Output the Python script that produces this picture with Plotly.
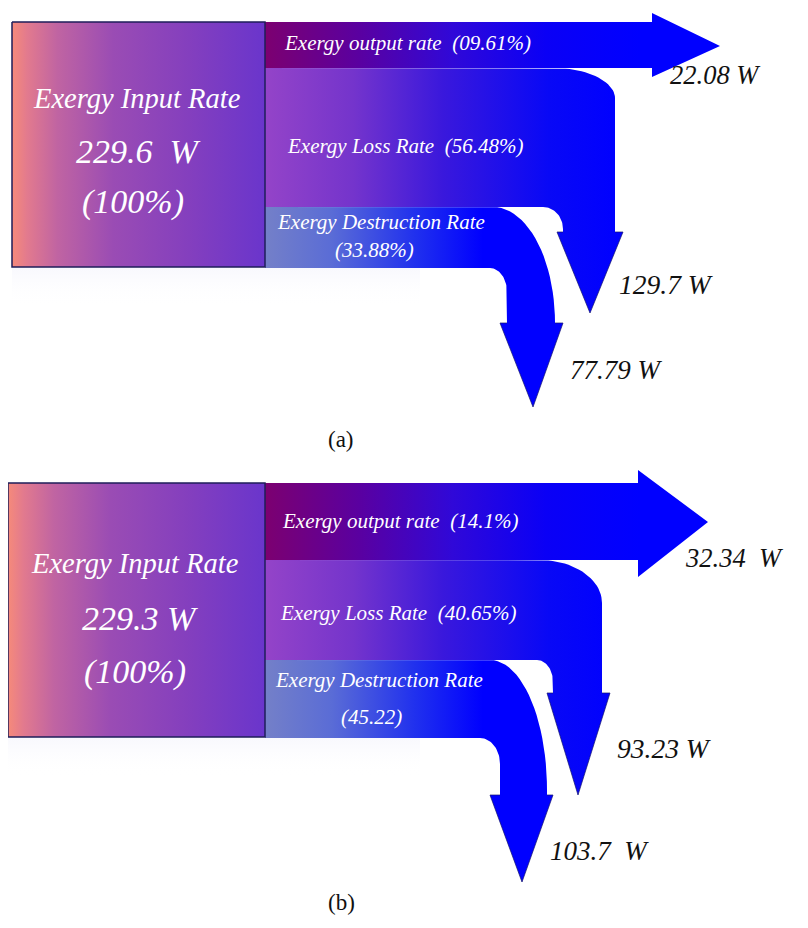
import numpy as np
import plotly.graph_objects as go

# ---------------- data ----------------
panel_tags = ["(a)", "(b)"]
input_rate_w = [229.6, 229.3]
output_rate_w = [22.08, 32.34]
loss_rate_w = [129.7, 93.23]
destruction_rate_w = [77.79, 103.7]
output_pct = ["(09.61%)", "(14.1%)"]
loss_pct = ["(56.48%)", "(40.65%)"]
destruction_pct = ["(33.88%)", "(45.22)"]
input_pct = ["(100%)", "(100%)"]

# ---------------- geometry (layout / style) ----------------
G = [
    dict(box=(12, 265, 22, 267),
         out=dict(y0=22, y1=68, hx=652, ht=13, hb=77, tipx=720, tipy=46),
         loss=dict(y0=68, y1=207, xr=615, rxo=62, ryo=30, xl=563, rxi=20, ryi=22,
                   yh=232, hl=557, hr=623, tipx=590, tipy=313),
         des=dict(y0=207, y1=268, xr=555, rxo=62, ryo=116, xl=507, rxi=17, ryi=24,
                  yh=323, hl=500, hr=563, tipx=533, tipy=407),
         t_in=(137, 98, 138, 202), t_out=(282, 43), t_loss=(285, 146),
         t_des=(275, 222, 374, 250),
         v_out=(668, 75), v_loss=(617, 284), v_des=(568, 370), tag=(341, 439)),
    dict(box=(8, 265, 483, 737),
         out=dict(y0=483, y1=560, hx=638, ht=470, hb=577, tipx=708, tipy=522),
         loss=dict(y0=560, y1=660, xr=602, rxo=62, ryo=43, xl=553, rxi=16, ryi=22,
                   yh=693, hl=547, hr=610, tipx=578, tipy=795),
         des=dict(y0=660, y1=738, xr=547, rxo=57, ryo=130, xl=500, rxi=20, ryi=26,
                  yh=795, hl=490, hr=553, tipx=522, tipy=882),
         t_in=(135, 563, 140, 672), t_out=(280, 521), t_loss=(278, 613),
         t_des=(273, 680, 371, 717),
         v_out=(683, 558), v_loss=(615, 748), v_des=(548, 851), tag=(341, 902)),
]

X0 = 265  # left edge of the flow bands
PAGE_OFFSET = 8  # compensates the default page margin of the html body


def arc(cx, cy, rx, ry, a0, a1, n=24):
    t = np.radians(np.linspace(a0, a1, n))
    return list(cx + rx * np.cos(t)), list(cy + ry * np.sin(t))


def bent_arrow(g):
    xs, ys = [X0], [g["y0"]]
    ax, ay = arc(g["xr"] - g["rxo"], g["y0"] + g["ryo"], g["rxo"], g["ryo"], -90, 0)
    xs += ax; ys += ay
    xs += [g["xr"], g["hr"], g["tipx"], g["hl"], g["xl"]]
    ys += [g["yh"], g["yh"], g["tipy"], g["yh"], g["yh"]]
    ax, ay = arc(g["xl"] - g["rxi"], g["y1"] + g["ryi"], g["rxi"], g["ryi"], 0, -90)
    xs += ax; ys += ay
    xs += [X0, X0]
    ys += [g["y1"], g["y0"]]
    return xs, ys


def straight_arrow(g):
    xs = [X0, g["hx"], g["hx"], g["tipx"], g["hx"], g["hx"], X0, X0]
    ys = [g["y0"], g["y0"], g["ht"], g["tipy"], g["hb"], g["y1"], g["y1"], g["y0"]]
    return xs, ys


def head_outline(g):
    return ([g["xr"], g["hr"], g["tipx"], g["hl"], g["xl"]],
            [g["yh"], g["yh"], g["tipy"], g["yh"], g["yh"]])


fig = go.Figure()

SERIF = "Liberation Serif, Times New Roman, serif"

cs_box = [[0, "#f68a7a"], [0.06, "#e27a8e"], [0.18, "#c064a2"], [0.4, "#9a4cb4"],
          [0.7, "#843fbe"], [1, "#6a35cc"]]
cs_out = [[0, "#7c0070"], [0.25, "#5a00a0"], [0.5, "#3008d8"], [0.75, "#0a00f6"], [1, "#0000ff"]]
cs_loss = [[0, "#9444c8"], [0.25, "#7434cc"], [0.5, "#3a18dc"], [0.8, "#0808f6"], [1, "#0000ff"]]
cs_des = [[0, "#7480c8"], [0.2, "#5a6cd6"], [0.45, "#2030ee"], [0.65, "#0000ff"], [1, "#0000ff"]]

annotations = []
for i, g in enumerate(G):
    bx0, bx1, by0, by1 = g["box"]
    # faint reflection under the input box
    fig.add_trace(go.Scatter(
        x=[bx0, 420, 420, bx0, bx0], y=[by1, by1, by1 + 40, by1 + 40, by1],
        fill="toself", mode="lines", line=dict(width=0), hoverinfo="skip",
        fillgradient=dict(type="vertical", start=by1, stop=by1 + 40,
                          colorscale=[[0, "rgba(238,238,250,0.4)"], [1, "rgba(255,255,255,0)"]]),
        showlegend=False))
    # destruction arrow
    xs, ys = bent_arrow(g["des"])
    fig.add_trace(go.Scatter(x=xs, y=ys, fill="toself", mode="lines", line=dict(width=0),
                             fillgradient=dict(type="horizontal", start=X0, stop=600, colorscale=cs_des),
                             hoverinfo="skip", showlegend=False))
    hx, hy = head_outline(g["des"])
    fig.add_trace(go.Scatter(x=hx, y=hy, mode="lines", line=dict(width=1, color="rgba(20,20,110,0.7)"),
                             hoverinfo="skip", showlegend=False))
    # loss arrow
    xs, ys = bent_arrow(g["loss"])
    fig.add_trace(go.Scatter(x=xs, y=ys, fill="toself", mode="lines", line=dict(width=0),
                             fillgradient=dict(type="horizontal", start=X0, stop=620, colorscale=cs_loss),
                             hoverinfo="skip", showlegend=False))
    hx, hy = head_outline(g["loss"])
    fig.add_trace(go.Scatter(x=hx, y=hy, mode="lines", line=dict(width=1, color="rgba(20,20,110,0.7)"),
                             hoverinfo="skip", showlegend=False))
    # output arrow
    xs, ys = straight_arrow(g["out"])
    fig.add_trace(go.Scatter(x=xs, y=ys, fill="toself", mode="lines", line=dict(width=0),
                             fillgradient=dict(type="horizontal", start=X0, stop=640, colorscale=cs_out),
                             hoverinfo="skip", showlegend=False))
    # input box
    fig.add_trace(go.Scatter(x=[bx0, bx1, bx1, bx0, bx0], y=[by0, by0, by1, by1, by0],
                             fill="toself", mode="lines", line=dict(width=1.5, color="#1e1e5a"),
                             fillgradient=dict(type="horizontal", start=bx0, stop=bx1, colorscale=cs_box),
                             hoverinfo="skip", showlegend=False))

    def txt(x, y, s, size, color="white", xanchor="center", italic=True):
        annotations.append(dict(x=x, y=y, xref="x", yref="y", text=s, showarrow=False,
                                xanchor=xanchor, yanchor="middle",
                                font=dict(family=SERIF, size=size, color=color,
                                          style="italic" if italic else "normal")))

    cx, y1, cx2, y3 = g["t_in"]
    sep = "  " if i == 0 else " "
    txt(cx, y1, "Exergy Input Rate", 28.5)
    txt(cx2, (y1 + y3) / 2 + 1, f"{input_rate_w[i]}{sep}W", 34)
    txt(cx2 - 5, y3, input_pct[i], 34)
    txt(g["t_out"][0], g["t_out"][1], f"Exergy output rate  {output_pct[i]}", 21, xanchor="left")
    txt(g["t_loss"][0], g["t_loss"][1], f"Exergy Loss Rate  {loss_pct[i]}", 21, xanchor="left")
    dx, dy, dcx, dcy = g["t_des"]
    txt(dx, dy, "Exergy Destruction Rate", 21, xanchor="left")
    txt(dcx, dcy, destruction_pct[i], 21)
    txt(g["v_out"][0], g["v_out"][1], f"{output_rate_w[i]}  W" if i else f"{output_rate_w[i]} W", 26.5,
        color="#111111", xanchor="left")
    txt(g["v_loss"][0], g["v_loss"][1], f"{loss_rate_w[i]} W", 27.5, color="#111111", xanchor="left")
    txt(g["v_des"][0], g["v_des"][1], f"{destruction_rate_w[i]}  W" if i else f"{destruction_rate_w[i]} W",
        27, color="#111111", xanchor="left")
    txt(g["tag"][0], g["tag"][1], panel_tags[i], 23, color="#111111", italic=False)

fig.update_layout(
    width=808, height=928, margin=dict(l=0, r=0, t=0, b=0),
    paper_bgcolor="white", plot_bgcolor="white",
    xaxis=dict(range=[PAGE_OFFSET, 808 + PAGE_OFFSET], visible=False, fixedrange=True),
    yaxis=dict(range=[928 + PAGE_OFFSET, PAGE_OFFSET], visible=False, fixedrange=True),
    annotations=annotations, showlegend=False,
)

fig.write_html("out.html")
